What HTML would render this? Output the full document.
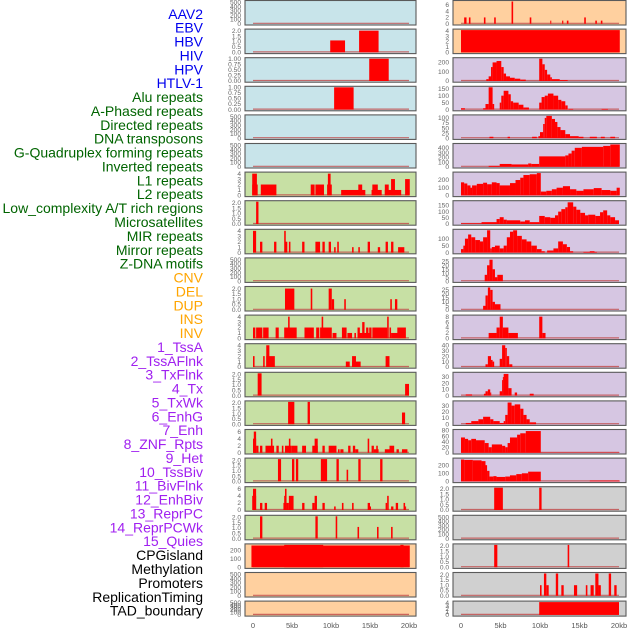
<!DOCTYPE html>
<html><head><meta charset="utf-8">
<style>
html,body{margin:0;padding:0;background:#fff;}
svg{display:block;font-family:"Liberation Sans",sans-serif;}
</style></head>
<body>
<svg id="chart" width="630" height="630" viewBox="0 0 630 630" xmlns="http://www.w3.org/2000/svg"></svg>
<script>
// ---------- labels ----------
const trackLabels = ["AAV2","EBV","HBV","HIV","HPV","HTLV-1",
"Alu repeats","A-Phased repeats","Directed repeats","DNA transposons","G-Quadruplex forming repeats","Inverted repeats","L1 repeats","L2 repeats","Low_complexity A/T rich regions","Microsatellites","MIR repeats","Mirror repeats","Z-DNA motifs",
"CNV","DEL","DUP","INS","INV",
"1_TssA","2_TssAFlnk","3_TxFlnk","4_Tx","5_TxWk","6_EnhG","7_Enh","8_ZNF_Rpts","9_Het","10_TssBiv","11_BivFlnk","12_EnhBiv","13_ReprPC","14_ReprPCWk","15_Quies",
"CPGisland","Methylation","Promoters","ReplicationTiming","TAD_boundary"];
const labelGroups = ["virus","virus","virus","virus","virus","virus",
"repeat","repeat","repeat","repeat","repeat","repeat","repeat","repeat","repeat","repeat","repeat","repeat","repeat",
"sv","sv","sv","sv","sv",
"chrom","chrom","chrom","chrom","chrom","chrom","chrom","chrom","chrom","chrom","chrom","chrom","chrom","chrom","chrom",
"other","other","other","other","other"];
const xTickValues = [0,5,10,15,20];
const xTickLabels = ["0","5kb","10kb","15kb","20kb"];

// ---------- tick label sets ----------
const t500 = ["0","100","200","300","400","500"];
const t2 = ["0.0","0.5","1.0","1.5","2.0"];
const t1 = ["0.00","0.25","0.50","0.75","1.00"];
const t4 = ["0","1","2","3","4"];
const t6 = ["0","2","4","6"];
const t200 = ["0","100","200"];
const t150 = ["0","50","100","150"];
const t100q = ["0","25","50","75","100"];
const t400 = ["0","100","200","300","400"];
const t25 = ["0","5","10","15","20","25"];
const t8 = ["0","2","4","6","8"];
const t40 = ["0","10","20","30","40"];
const t30 = ["0","10","20","30"];
const t80 = ["0","20","40","60","80"];
const t100h = ["0","50","100"];

// ---------- middle column data: [startKb, endKb, value] ----------
const midAAV2 = [];
const midEBV = [[9.9,11.8,1.1],[13.6,16.1,2]];
const midHBV = [[14.9,17.4,1]];
const midHIV = [[10.4,12.9,1]];
const midHPV = [];
const midHTLV = [];
const midAlu = [[-0.1,0.5,4],[-0.1,0.6,2],[1.0,3.0,2],[7.4,7.9,2],[8.0,9.1,2],[9.5,10.1,2],[9.6,9.95,4],[11.3,14.4,1],[13.5,14.0,2],[15.2,16.5,1],[15.3,16.0,2],[16.9,19.0,1],[16.9,17.4,2],[17.7,18.2,3],[19.5,20.1,3]];
const midAPhased = [[0.4,0.7,2.1]];
const midDirected = [[0,0.4,4],[0.9,1.2,2],[2.7,3.0,2],[4.0,4.2,4],[4.1,4.4,2],[4.6,4.8,2],[6.3,6.6,2],[8.0,8.6,2],[8.9,9.2,2],[9.7,10.0,2],[10.4,10.6,1],[10.8,11.0,2],[12.7,12.9,1],[13.5,13.7,1],[14.7,15.0,2],[16.0,16.3,1],[17.0,17.3,2],[17.7,18.0,2],[18.6,19.4,1]];
const midDNAtrans = [];
const midGQuad = [[4.1,5.3,2],[7.4,7.6,2],[9.7,10.1,2],[10.1,10.4,1],[11.7,11.9,1],[17.6,17.8,1],[18.2,18.5,1]];
const midInverted = [[0,0.3,2],[0.4,1.2,2],[1.3,2.0,2],[2.9,3.3,2],[4.0,5.6,2],[4.5,4.7,4],[6.6,7.8,2],[8.1,8.5,2],[8.6,10.1,2],[8.8,9.0,4],[10.2,10.7,1],[11.4,12.0,2],[12.1,12.7,1],[13.0,13.2,1],[13.4,15.0,1],[13.4,13.7,2],[14.0,14.3,3],[14.5,14.8,2],[14.9,15.2,2],[15.3,17.2,2],[17.2,17.4,4],[17.5,17.7,2],[17.7,18.9,1],[18.5,19.6,2]];
const midL1 = [[0,0.2,2],[1.3,1.5,2],[1.7,2.1,4],[1.7,2.8,2],[11.9,12.4,1],[12.7,13.8,1],[12.7,13.2,2],[17.0,17.5,2]];
const midL2 = [[0.6,1.1,2.1],[19.5,20.0,1.1]];
const midLowComp = [[4.5,5.3,2.1],[7.0,7.3,2.1],[19.1,19.5,1.1]];
const midMicro = [[0,0.4,4],[0.1,0.4,6],[0.4,0.7,2],[0.9,1.2,2],[1.6,2.7,2],[2.3,2.5,4],[3.0,3.3,2],[3.7,3.9,2],[4.1,4.9,2],[4.6,4.8,4],[4.9,5.7,2],[6.3,6.8,2],[7.6,8.3,2],[7.9,8.3,4],[8.9,9.2,2],[9.7,10.7,2],[10.9,11.1,1],[11.2,11.6,1],[12.2,12.5,2],[12.8,13.1,2],[13.1,13.5,1],[14.7,14.9,4],[15.2,15.5,2],[15.5,16.1,1],[15.8,16.0,2],[16.9,17.5,1],[17.5,18.1,2],[18.4,18.7,1],[19.1,19.8,1]];
const midMIR = [[3.2,3.6,2.1],[5.0,5.3,2.1],[5.5,5.8,2.1],[8.7,9.5,2.1],[10.7,11.0,2.1],[12.0,12.2,1.1],[13.5,13.8,2.1],[16.3,16.6,2.1]];
const midMirror = [[-0.1,0.4,4],[0,0.4,6],[0.9,1.2,2],[1.5,1.8,2],[3.9,4.2,2],[4.0,4.2,4],[4.1,4.3,6],[4.3,4.6,2],[4.6,5.2,4],[6.3,6.6,2],[7.6,7.9,2],[7.9,8.2,4],[8.9,9.2,2],[10.4,10.6,1],[11.4,11.6,2],[12.7,12.9,2],[14.7,15.0,2],[15.0,15.1,1],[17.0,17.2,2],[17.2,17.4,4],[17.7,18.0,1],[18.3,18.6,2],[19.3,19.5,2],[19.5,19.6,1]];
const midZDNA = [[0.9,1.2,2.1],[8.0,8.3,2.1],[10.6,10.8,2.1],[13.4,13.6,1.1],[15.9,16.1,1.1],[17.7,17.9,1.1]];
const midCNV = [[-0.2,20.1,258],[4.0,9.0,265],[18.9,19.3,265]];
const midDEL = [];
const midDUP = [];

// ---------- right column data ----------
const rgtINS = [[0.4,0.7,2],[1.0,1.2,2],[2.9,3.1,2],[4.2,4.4,2],[6.4,6.6,8],[8.7,8.9,2],[11.3,11.4,1],[12.8,12.95,1],[13.4,13.6,1],[15.6,15.8,2],[17.0,17.2,1],[17.7,17.9,1]];
const rgtINV = [[0.0,20.1,4.2]];
const rgtTssA = [[3.2,3.5,20],[3.5,3.8,50],[3.8,4.0,150],[4.0,4.5,200],[4.5,5.1,215],[5.1,5.4,150],[5.4,5.7,80],[5.7,6.2,50],[6.2,6.8,35],[6.8,7.5,25],[7.5,8.2,15],[9.9,10.3,240],[10.3,10.6,180],[10.6,10.9,120],[10.9,11.3,70],[11.3,11.5,40],[11.5,12.5,20],[12.5,13.5,10]];
const rgtTssAFlnk = [[0,0.5,10],[2.8,3.1,10],[3.1,3.5,40],[3.5,4.0,160],[4.0,4.2,40],[4.9,5.1,50],[5.1,5.4,100],[5.4,6.0,135],[6.0,6.3,110],[6.3,6.6,60],[6.6,7.3,50],[7.3,7.9,35],[7.9,8.6,15],[9.9,10.2,50],[10.2,10.6,90],[10.6,11.0,100],[11.0,11.7,115],[11.7,12.3,100],[12.3,12.7,70],[12.7,13.2,60],[13.2,13.5,30],[13.6,14.2,5],[17.8,18.6,5]];
const rgtTxFlnk = [[3.6,4.1,7],[5.9,6.2,7],[9.0,9.6,7],[9.8,10.0,10],[10.0,10.4,30],[10.4,10.6,70],[10.6,10.8,100],[10.8,11.5,110],[11.5,11.9,95],[11.9,12.2,80],[12.2,12.6,55],[12.6,13.2,40],[13.2,13.8,20],[13.8,14.9,10],[14.9,15.5,7],[16.3,17.2,7],[17.7,18.2,7],[18.9,19.5,7]];
const rgtTx = [[3.5,4.9,20],[4.9,6.4,60],[6.4,8.5,50],[8.5,8.9,70],[8.9,9.9,60],[9.9,13.2,220],[13.2,13.6,240],[13.6,14.0,280],[14.0,14.4,340],[14.4,15.3,400],[15.3,18.0,420],[18.0,18.9,440],[18.9,20.1,470]];
const rgtTxWk = [[0,0.4,170],[0.4,0.8,155],[0.8,1.2,130],[1.2,1.4,100],[1.4,2.0,130],[2.0,2.8,150],[2.8,3.3,165],[3.3,3.9,145],[3.9,4.5,170],[4.5,4.9,160],[4.9,6.2,130],[6.2,6.9,160],[6.9,7.5,200],[7.5,7.9,230],[7.9,8.7,265],[8.7,9.6,275],[9.6,10.1,290],[10.1,10.8,50],[10.8,11.5,60],[11.5,12.1,80],[12.1,12.9,100],[12.9,13.8,120],[13.8,14.6,80],[14.6,15.5,60],[15.5,16.8,80],[16.8,17.8,95],[17.8,18.9,70],[18.9,19.7,60],[19.7,20.1,100]];
const rgtEnhG = [[0,2.6,5],[2.6,4.5,15],[4.5,4.9,40],[4.9,5.4,55],[5.4,5.8,35],[5.8,7.5,30],[7.5,8.1,20],[8.1,8.7,30],[8.7,9.9,15],[9.9,10.6,65],[10.6,11.3,55],[11.3,11.9,50],[11.9,12.3,70],[12.3,12.7,100],[12.7,13.2,120],[13.2,13.5,135],[13.5,14.2,175],[14.2,14.6,140],[14.6,15.1,115],[15.1,15.7,90],[15.7,16.1,70],[16.1,17.0,75],[17.0,17.6,65],[17.6,18.0,95],[18.0,18.5,110],[18.5,18.9,70],[18.9,19.5,55],[19.5,20.0,30]];
const rgtEnh = [[0,0.3,25],[0.3,0.5,50],[0.5,0.9,100],[0.9,1.3,130],[1.3,1.8,110],[1.8,2.4,90],[2.4,2.8,80],[2.8,3.3,110],[3.3,3.7,160],[3.7,3.9,30],[3.9,4.3,40],[4.3,4.9,50],[4.9,5.4,30],[5.4,5.8,50],[5.8,6.2,110],[6.2,6.6,150],[6.6,7.1,165],[7.1,7.7,120],[7.7,8.3,95],[8.3,8.9,80],[8.9,9.6,50],[9.6,10.2,25],[10.2,10.6,10],[10.9,11.7,15],[11.7,12.3,30],[12.3,12.9,80],[12.9,13.4,60],[13.4,13.8,40],[13.8,14.2,10],[15.5,17.2,5],[16.3,16.9,10]];
const rgtZNF = [[3.0,3.3,8],[3.3,3.6,20],[3.6,4.0,27],[4.0,4.3,15],[4.3,4.6,5],[4.6,5.3,8]];
const rgtHet = [[2.8,3.1,5],[3.1,3.4,18],[3.4,3.7,28],[3.7,4.0,25],[4.0,4.3,10],[4.3,5.0,7]];
const rgtTssBiv = [[3.5,4.5,2],[4.5,4.9,4],[4.9,5.3,8],[5.3,6.0,4],[6.0,7.2,2],[9.9,10.3,8],[10.3,10.7,2]];
const rgtBivFlnk = [[3.1,3.4,5],[3.4,3.8,20],[3.8,4.0,13],[4.0,4.2,10],[4.9,5.2,15],[5.2,5.6,40],[5.6,5.8,35],[5.8,6.1,20],[6.1,6.5,5]];
const rgtEnhBiv = [[0.6,1.4,2],[2.9,3.1,3],[3.1,3.4,7],[3.4,3.7,10],[3.7,3.8,5],[4.9,5.2,7],[5.2,5.3,25],[5.3,5.4,30],[5.4,6.0,35],[6.0,6.4,12],[6.8,7.1,5],[8.7,9.2,3]];
const rgtReprPC = [[0.6,1.3,2],[1.3,2.2,5],[2.2,2.8,8],[2.8,3.7,12],[3.7,4.1,8],[4.1,4.9,5],[4.9,5.4,2],[5.4,5.6,5],[5.6,5.9,15],[5.9,6.4,35],[6.4,6.8,30],[6.8,7.5,32],[7.5,7.9,25],[7.9,8.3,15],[8.3,8.7,8],[8.7,9.5,3]];
const rgtReprPCWk = [[0,0.5,55],[0.5,0.9,50],[0.9,1.3,45],[1.3,1.9,50],[1.9,3.0,45],[3.0,3.5,35],[3.5,3.9,20],[3.9,5.2,30],[5.2,5.6,25],[5.6,5.9,20],[5.9,6.2,35],[6.2,7.1,55],[7.1,7.5,65],[7.5,8.2,70],[8.2,10.1,78],[10.1,20.1,1]];
const rgtQuies = [[0,0.4,270],[0.4,1.5,265],[1.5,2.6,260],[2.6,3.1,250],[3.1,3.3,200],[3.3,3.6,130],[3.6,4.1,60],[4.1,4.5,65],[4.5,5.6,55],[5.6,6.2,60],[6.2,7.0,75],[7.0,7.7,90],[7.7,8.5,100],[8.5,10.1,120],[16.3,20.1,10]];
const rgtCPG = [[4.2,5.3,2.1],[9.9,10.2,2.1]];
const rgtMeth = [];
const rgtProm = [[4.2,4.6,2.1],[13.5,13.7,2.1]];
const rgtRepl = [[10.0,10.2,1],[10.5,10.8,2.1],[10.8,11.1,1],[12.0,12.3,2.1],[12.7,13.0,1],[14.3,14.7,1],[15.8,16.0,1],[16.4,16.8,1],[17.0,17.4,2.1],[17.4,17.7,1],[18.7,19.0,2.1],[19.4,19.7,1]];
const rgtTAD = [[9.9,20.0,4.2]];

const midSeries = [midAAV2,midEBV,midHBV,midHIV,midHPV,midHTLV,midAlu,midAPhased,midDirected,midDNAtrans,midGQuad,midInverted,midL1,midL2,midLowComp,midMicro,midMIR,midMirror,midZDNA,midCNV,midDEL,midDUP];
const rgtSeries = [rgtINS,rgtINV,rgtTssA,rgtTssAFlnk,rgtTxFlnk,rgtTx,rgtTxWk,rgtEnhG,rgtEnh,rgtZNF,rgtHet,rgtTssBiv,rgtBivFlnk,rgtEnhBiv,rgtReprPC,rgtReprPCWk,rgtQuies,rgtCPG,rgtMeth,rgtProm,rgtRepl,rgtTAD];
const midTicks = [t500,t2,t1,t1,t500,t500,t4,t2,t4,t500,t2,t4,t4,t2,t2,t6,t2,t6,t2,t200,t500,t500];
const rgtTicks = [t6,t4,t200,t150,t100q,t400,t200,t150,t100h,t25,t25,t8,t40,t30,t30,t80,t200,t2,t500,t2,t2,t4];
const midYMax = [520,2.05,1.0,1.0,520,520,4.1,2.1,4.1,520,2.1,4.1,4.1,2.1,2.1,6.3,2.1,6.3,2.1,265,520,520];
const rgtYMax = [7,4.1,240,160,110,470,290,180,160,28,28,8.2,41,36,36,80,275,2.1,520,2.1,2.1,4.2];

// ---------- drawing ----------
const NS = "http://www.w3.org/2000/svg";
const svg = document.getElementById("chart");
const groupColor = {virus:"#0000ee",repeat:"#006400",sv:"#ffa500",chrom:"#a020f0",other:"#000000"};
const midBg = ["#c8e4ea","#c8e4ea","#c8e4ea","#c8e4ea","#c8e4ea","#c8e4ea","#c7e0a4","#c7e0a4","#c7e0a4","#c7e0a4","#c7e0a4","#c7e0a4","#c7e0a4","#c7e0a4","#c7e0a4","#c7e0a4","#c7e0a4","#c7e0a4","#c7e0a4","#ffd09f","#ffd09f","#ffd09f"];
const rgtBg = ["#ffd09f","#ffd09f","#d6c6e2","#d6c6e2","#d6c6e2","#d6c6e2","#d6c6e2","#d6c6e2","#d6c6e2","#d6c6e2","#d6c6e2","#d6c6e2","#d6c6e2","#d6c6e2","#d6c6e2","#d6c6e2","#d6c6e2","#d0d0d0","#d0d0d0","#d0d0d0","#d0d0d0","#d0d0d0"];

function mk(tag, attrs, parent){
  const e = document.createElementNS(NS, tag);
  for (const k in attrs) e.setAttribute(k, attrs[k]);
  (parent||svg).appendChild(e);
  return e;
}

// left labels
trackLabels.forEach((lab,i)=>{
  const t = mk("text",{x:203,y:14+13.88*i+4.8,"text-anchor":"end","font-size":"14",fill:groupColor[labelGroups[i]]});
  
  
  t.textContent = lab;
});

const columns = [
  {name:"middle", x:245, w:171, x0:253, x1:409, series:midSeries, ticks:midTicks, ymax:midYMax, bg:midBg},
  {name:"right", x:453, w:173, x0:461, x1:619, series:rgtSeries, ticks:rgtTicks, ymax:rgtYMax, bg:rgtBg}
];

function rowTop(i){ return 0.5 + 28.6*i; }
function rowH(i){ return i===21 ? 15 : 24.5; }

columns.forEach(col=>{
  const xs = kb => col.x0 + (kb/20)*(col.x1-col.x0);
  col.series.forEach((data,i)=>{
    const top = rowTop(i), h = rowH(i), bot = top+h;
    const g = mk("g",{});
    
    
    const bg = mk("rect",{x:col.x,y:top,width:col.w,height:h,fill:col.bg[i]},g);
    
    
    const pTop = top+1, pBot = bot-1.2;
    const ys = v => pBot - Math.min(v/col.ymax[i],1.0)*(pBot-pTop);
    const base = mk("line",{x1:xs(0),x2:xs(20),y1:pBot-0.5,y2:pBot-0.5,stroke:"#c04848","stroke-width":1.2,"stroke-opacity":0.8},g);
    
    
    data.forEach(d=>{
      const xa = Math.max(xs(d[0]),col.x+1), xb = Math.min(xs(d[1]),col.x+col.w-1);
      const r = mk("rect",{x:xa,y:ys(d[2]),width:Math.max(xb-xa,1),height:pBot-ys(d[2]),fill:"#ff0000"},g);
      
      
    });
    const bd = mk("rect",{x:col.x,y:top,width:col.w,height:h,fill:"none",stroke:"#5a5a5a","stroke-width":1.1},g);
    
    
    const tk = col.ticks[i];
    tk.forEach(lbl=>{
      const v = parseFloat(lbl);
      const t = mk("text",{x:col.x-4,y:ys(v)+2.2,"text-anchor":"end","font-size":"6.6",fill:"#666"},g);
      
      
      t.textContent = lbl;
    });
  });
  xTickValues.forEach((v,k)=>{
    const t = mk("text",{x:xs(v),y:628,"text-anchor":"middle","font-size":"7.5",fill:"#555"});
    
    
    t.textContent = xTickLabels[k];
  });
});
</script>
</body></html>
